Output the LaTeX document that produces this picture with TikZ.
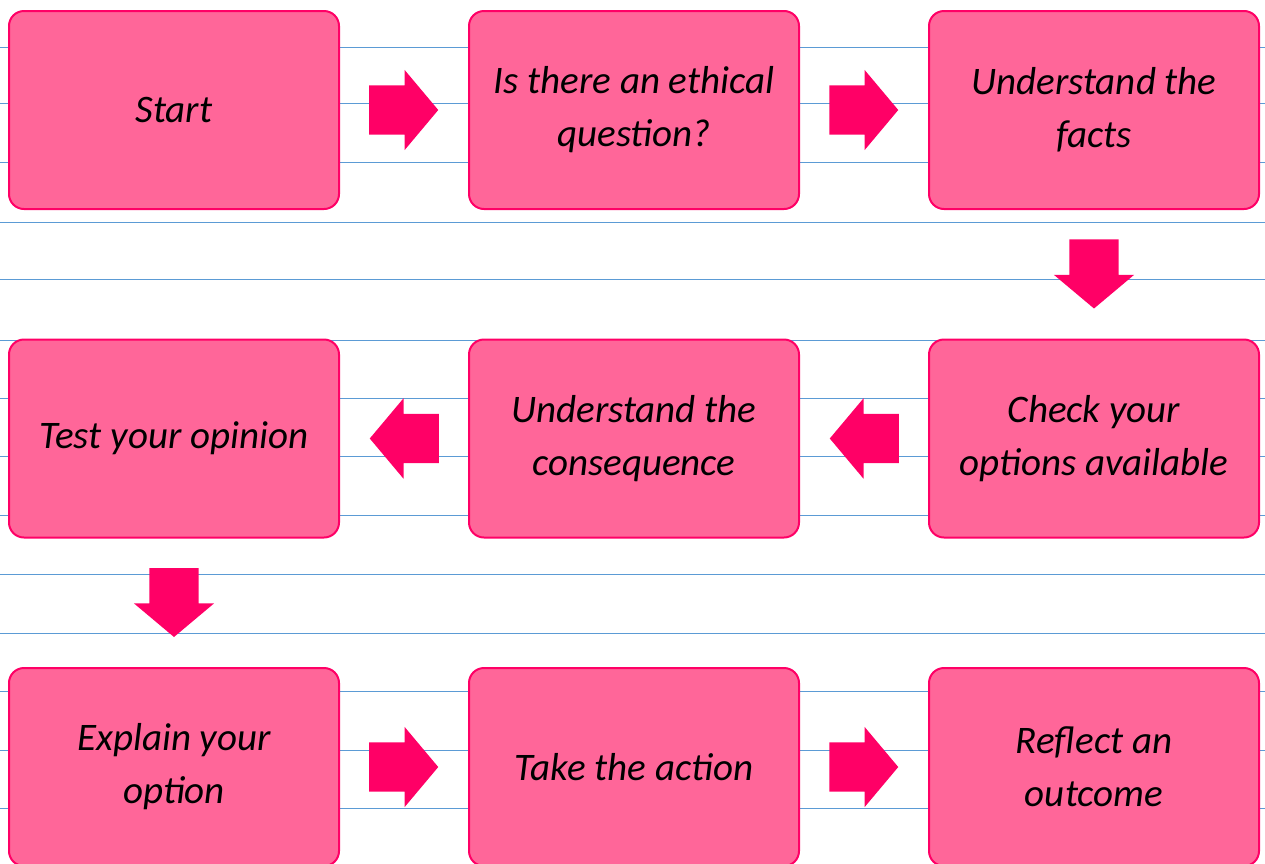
\documentclass[tikz,border=0pt]{standalone}
\usepackage{fontspec}
\setmainfont{Carlito}
\usetikzlibrary{shapes.arrows,calc}

\definecolor{boxfill}{HTML}{FF6699}
\definecolor{boxedge}{HTML}{FF0066}
\definecolor{ruleblue}{HTML}{5B9BD5}

\begin{document}
\begin{tikzpicture}[x=1pt,y=-1pt,
    stage/.style={draw=boxedge, fill=boxfill, line width=2pt, rounded corners=15pt,
        minimum width=330pt, minimum height=198pt, align=center,
        font=\fontsize{39}{53}\selectfont\itshape},
    blockarrow/.style={single arrow, fill=boxedge, draw=none, anchor=tip,
        inner xsep=0pt, inner ysep=24.5pt,
        minimum height=69pt, minimum width=80pt,
        single arrow head extend=15.5pt, single arrow tip angle=100},
    blockdown/.style={blockarrow, shape border rotate=270,
        inner xsep=24.5pt, inner ysep=0pt}]
    \clip (0,0) rectangle (1265,863);

    % Ruled lines
    \foreach \y in {47,103,162,222,279,340,398,456,515,574,633,691,750,808}
        \draw[ruleblue, line width=1pt] (0,\y) -- (1265,\y);

    % Stages
    \node[stage] (start)   at (174,110)   {Start};
    \node[stage] (ethic)   at (634,110)   {Is there an ethical\\question?};
    \node[stage] (facts)   at (1094,110)  {Understand the\\facts};
    \node[stage] (options) at (1094,438.5) {Check your\\options available};
    \node[stage] (conseq)  at (634,438.5) {Understand the\\consequence};
    \node[stage] (test)    at (174,438.5) {Test your opinion};
    \node[stage] (explain) at (174,767)   {Explain your\\option};
    \node[stage] (action)  at (634,767)   {Take the action};
    \node[stage] (reflect) at (1094,767)  {Reflect an\\outcome};

    % Block arrows between stages (tip placed half a length past the gap's middle)
    \node[blockarrow] (a1) at ($(start.east)!0.5!(ethic.west)!34.5pt!(ethic.west)$) {};
    \node[blockarrow] (a2) at ($(ethic.east)!0.5!(facts.west)!34.5pt!(facts.west)$) {};
    \node[blockdown] (a3) at ($(facts.south)!0.5!(options.north)!34.5pt!(options.north)$) {};
    \node[blockarrow, shape border rotate=180] (a4) at ($(options.west)!0.5!(conseq.east)!34.5pt!(conseq.east)$) {};
    \node[blockarrow, shape border rotate=180] (a5) at ($(conseq.west)!0.5!(test.east)!34.5pt!(test.east)$) {};
    \node[blockdown] (a6) at ($(test.south)!0.5!(explain.north)!34.5pt!(explain.north)$) {};
    \node[blockarrow] (a7) at ($(explain.east)!0.5!(action.west)!34.5pt!(action.west)$) {};
    \node[blockarrow] (a8) at ($(action.east)!0.5!(reflect.west)!34.5pt!(reflect.west)$) {};
\end{tikzpicture}
\end{document}
